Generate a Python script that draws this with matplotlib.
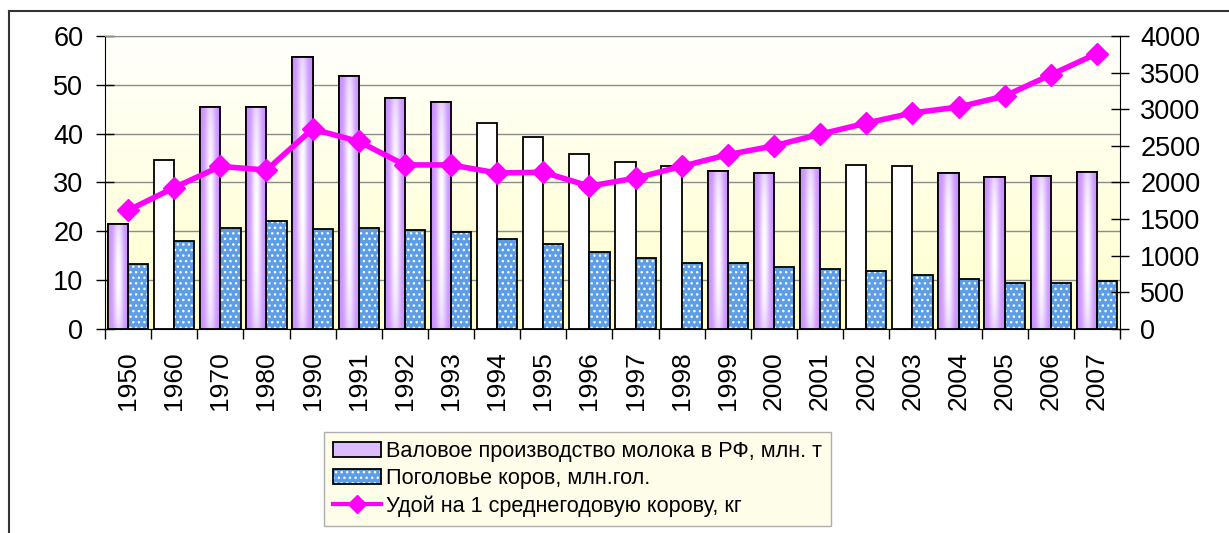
import numpy as np
import matplotlib
matplotlib.use('Agg')
import matplotlib.pyplot as plt
from matplotlib.patches import Patch
from matplotlib.lines import Line2D
from matplotlib.legend_handler import HandlerTuple

plt.rcParams['font.family'] = ['Liberation Sans', 'DejaVu Sans']
plt.rcParams['hatch.color'] = 'white'
plt.rcParams['hatch.linewidth'] = 1.0

# данные
years = ['1950', '1960', '1970', '1980', '1990', '1991', '1992', '1993', '1994', '1995', '1996',
         '1997', '1998', '1999', '2000', '2001', '2002', '2003', '2004', '2005', '2006', '2007']
milk = [21.5, 34.6, 45.5, 45.5, 55.7, 51.9, 47.2, 46.5, 42.2, 39.3, 35.8,
        34.1, 33.3, 32.3, 32.0, 32.9, 33.5, 33.4, 31.9, 31.1, 31.4, 32.2]
cows = [13.3, 18.0, 20.6, 22.2, 20.5, 20.6, 20.2, 19.8, 18.4, 17.4, 15.8,
        14.5, 13.5, 13.5, 12.7, 12.2, 11.8, 11.1, 10.3, 9.5, 9.5, 9.8]
yield_kg = [1620, 1930, 2220, 2170, 2730, 2560, 2240, 2240, 2130, 2140, 1950,
            2060, 2220, 2380, 2500, 2660, 2810, 2950, 3030, 3180, 3470, 3760]
# годы, где столбец молока белый (без заливки)
white_years = ['1960', '1994', '1995', '1996', '1997', '1998', '2002', '2003']

lbl_milk = 'Валовое производство молока в РФ, млн. т'
lbl_cows = 'Поголовье коров, млн.гол.'
lbl_yield = 'Удой на 1 среднегодовую корову, кг'

fig = plt.figure(figsize=(12.29, 5.33), dpi=100)
ax = fig.add_axes([0.0854, 0.3827, 0.8259, 0.5498])
ax2 = ax.twinx()

n = len(years)
x = np.arange(n)
w = 0.438

# фон области построения - градиент от жёлтого к белому
bg = np.linspace(0, 1, 256).reshape(-1, 1)
bg_rgb = np.zeros((256, 1, 3))
bot = np.array([1.0, 1.0, 0.80])
top = np.array([1.0, 1.0, 0.99])
for i in range(3):
    bg_rgb[:, 0, i] = bot[i] + (top[i] - bot[i]) * bg[:, 0]
ax.imshow(bg_rgb, extent=[0, 1, 0, 1], transform=ax.transAxes, aspect='auto',
          origin='lower', zorder=0, interpolation='bilinear')

# градиент для фиолетовых столбцов
uu, vv = np.meshgrid(np.linspace(0, 1, 60), np.linspace(0, 1, 100))
wt = np.exp(-((uu - 0.5) / 0.24) ** 2) * (0.55 + 0.45 * np.sin(np.pi * vv) ** 0.6)
purple = np.array([0.79, 0.56, 1.0])
grad = np.zeros(uu.shape + (3,))
for i in range(3):
    grad[:, :, i] = purple[i] + (1 - purple[i]) * wt

bars1 = ax.bar(x - w / 2, milk, w, facecolor='white', edgecolor='black', lw=1.3, zorder=2)
for yr, b in zip(years, bars1):
    if yr in white_years:
        continue
    bx, by = b.get_x(), b.get_y()
    im = ax.imshow(grad, extent=[bx, bx + b.get_width(), by, by + b.get_height()],
                   aspect='auto', origin='lower', zorder=2.1, interpolation='bilinear')
    im.set_clip_path(b)
    ax.bar(bx, b.get_height(), b.get_width(), align='edge', fill=False,
           edgecolor='black', lw=1.3, zorder=2.2)

ax.bar(x + w / 2, cows, w, facecolor='#5c9de8', hatch='...', edgecolor=None, lw=0, zorder=2)
ax.bar(x + w / 2, cows, w, fill=False, edgecolor='black', lw=1.3, zorder=2.2)

ax2.plot(x, yield_kg, color='#ff00ff', lw=4, marker='D', markersize=11, zorder=5)

ax.set_xlim(-0.5, n - 0.5)
ax.set_ylim(0, 60)
ax2.set_ylim(0, 4000)
ax.set_yticks(np.arange(0, 61, 10))
ax2.set_yticks(np.arange(0, 4001, 500))

ax.set_axisbelow(True)
ax.yaxis.grid(True, color='#8c8c8c', lw=1)
ax.set_xticks(x)
ax.set_xticklabels(years, rotation=90, fontsize=19)
ax.set_xticks(np.arange(-0.5, n, 1), minor=True)
ax.tick_params(axis='x', which='major', length=0, pad=16)
ax.tick_params(axis='x', which='minor', length=7, width=1)
ax.tick_params(axis='y', labelsize=19.5, direction='inout', length=13, width=1, pad=9)
ax2.tick_params(axis='y', labelsize=19.5, direction='inout', length=13, width=1, pad=8)

ax.spines['top'].set_color('#8c8c8c')
ax2.spines['top'].set_visible(False)
ax.spines['right'].set_visible(False)
ax2.spines['left'].set_visible(False)
ax2.spines['bottom'].set_visible(False)

# легенда
h_milk = Patch(facecolor='#dcbcff', edgecolor='black', lw=1.3)
h_cows = (Patch(facecolor='#5c9de8', hatch='...', edgecolor=None, lw=0),
          Patch(fill=False, edgecolor='black', lw=1.3))
h_yield = Line2D([], [], color='#ff00ff', lw=3, marker='D', markersize=9)
leg = fig.legend([h_milk, h_cows, h_yield], [lbl_milk, lbl_cows, lbl_yield],
                 handler_map={tuple: HandlerTuple(ndivide=1)},
                 loc='lower left', bbox_to_anchor=(0.2636, 0.0131), fontsize=15.6,
                 frameon=True, fancybox=False, borderaxespad=0, handlelength=2.2,
                 handletextpad=0.25, labelspacing=0.28, borderpad=0.42)
leg.get_frame().set_facecolor('#fdfde4')
leg.get_frame().set_edgecolor('#9a9a9a')
leg.get_frame().set_linewidth(1)

# рамка диаграммы (левый и верхний края)
fig.add_artist(Line2D([9 / 1229, 9 / 1229], [0, 1 - 11 / 533], color='#333333', lw=1.5))
fig.add_artist(Line2D([9 / 1229, 1], [1 - 11 / 533, 1 - 11 / 533], color='#333333', lw=1.5))

fig.savefig('out.png', dpi=100)
